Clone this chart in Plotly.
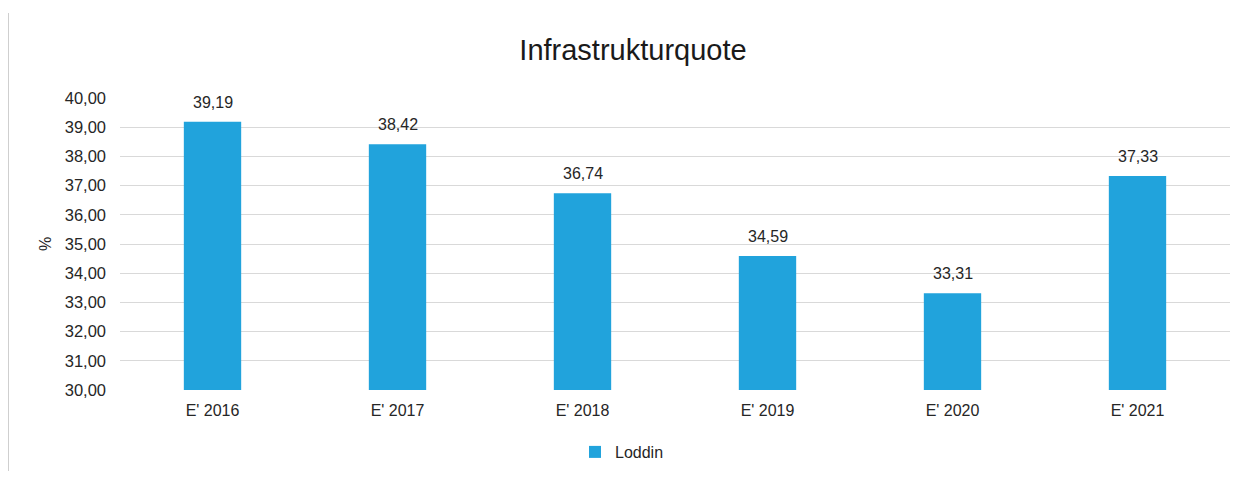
import plotly.graph_objects as go

categories = ["E' 2016", "E' 2017", "E' 2018", "E' 2019", "E' 2020", "E' 2021"]
values = [39.19, 38.42, 36.74, 34.59, 33.31, 37.33]
series_name = "Loddin"
title_text = "Infrastrukturquote"
y_ticks = [30, 31, 32, 33, 34, 35, 36, 37, 38, 39, 40]

OFF = 8  # page body margin in browser
W, H = 1255 - 2 * OFF, 479 - 2 * OFF
# plot area in reference pixel coords: x 120..1230, y 98..390
ML = 120 - OFF
MT = 98 - OFF
MR = W - (1230 - OFF)
MB = H - (390 - OFF)
PW = W - ML - MR
PH = H - MT - MB

def px_x(px):  # reference px -> paper
    return (px - OFF - ML) / PW

def px_y(py):
    return (H - MB - (py - OFF)) / PH

FONT = "Liberation Sans, Arial, sans-serif"
BAR = "#21A3DC"
TXT = "#262626"

fig = go.Figure()
fig.add_trace(go.Bar(
    x=categories, y=values, name=series_name,
    marker=dict(color=BAR, line=dict(width=0)),
    showlegend=True,
))

for c, v in zip(categories, values):
    fig.add_annotation(
        x=c, y=v, xref="x", yref="y",
        text=f"{v:.2f}".replace(".", ","),
        showarrow=False, yanchor="bottom", yshift=9,
        font=dict(family=FONT, size=16, color=TXT),
    )

fig.add_annotation(
    x=px_x(45), y=0.5, xref="paper", yref="paper",
    xanchor="center", yanchor="middle",
    text="%", textangle=-90, showarrow=False,
    font=dict(family=FONT, size=16, color=TXT),
)

fig.add_shape(type="line", xref="paper", yref="paper",
              x0=px_x(8), x1=px_x(8), y0=px_y(13), y1=px_y(479),
              line=dict(color="#cfcfcf", width=2))
fig.add_shape(type="line", xref="paper", yref="paper",
              x0=px_x(1253), x1=px_x(1253), y0=px_y(13), y1=px_y(479),
              line=dict(color="#ececec", width=1))

fig.update_layout(
    width=W, height=H,
    margin=dict(l=ML, r=MR, t=MT, b=MB, autoexpand=False),
    paper_bgcolor="white", plot_bgcolor="white",
    separators=",.",
    bargap=0.69,
    font=dict(family=FONT, size=16, color=TXT),
    title=dict(text=title_text, x=(633 - OFF) / W, xanchor="center", xref="container",
               y=1 - (50 - OFF) / H, yanchor="middle", yref="container",
               font=dict(family=FONT, size=29, color="#1a1a1a")),
    xaxis=dict(showgrid=False, showline=False, ticks="", zeroline=False,
               tickfont=dict(family=FONT, size=16, color=TXT),
               ticklabelstandoff=9, automargin=False),
    yaxis=dict(range=[30, 40], tickvals=y_ticks, tickformat=".2f",
               showgrid=True, gridcolor="#d9d9d9", gridwidth=1,
               zeroline=False, showline=False, ticks="",
               tickfont=dict(family=FONT, size=16.5, color=TXT),
               ticklabelstandoff=13, automargin=False),
    legend=dict(orientation="h", x=px_x(622), xanchor="center",
                y=px_y(452), yanchor="middle",
                font=dict(family=FONT, size=16, color=TXT),
                itemwidth=30),
)

fig.write_html("out.html")
